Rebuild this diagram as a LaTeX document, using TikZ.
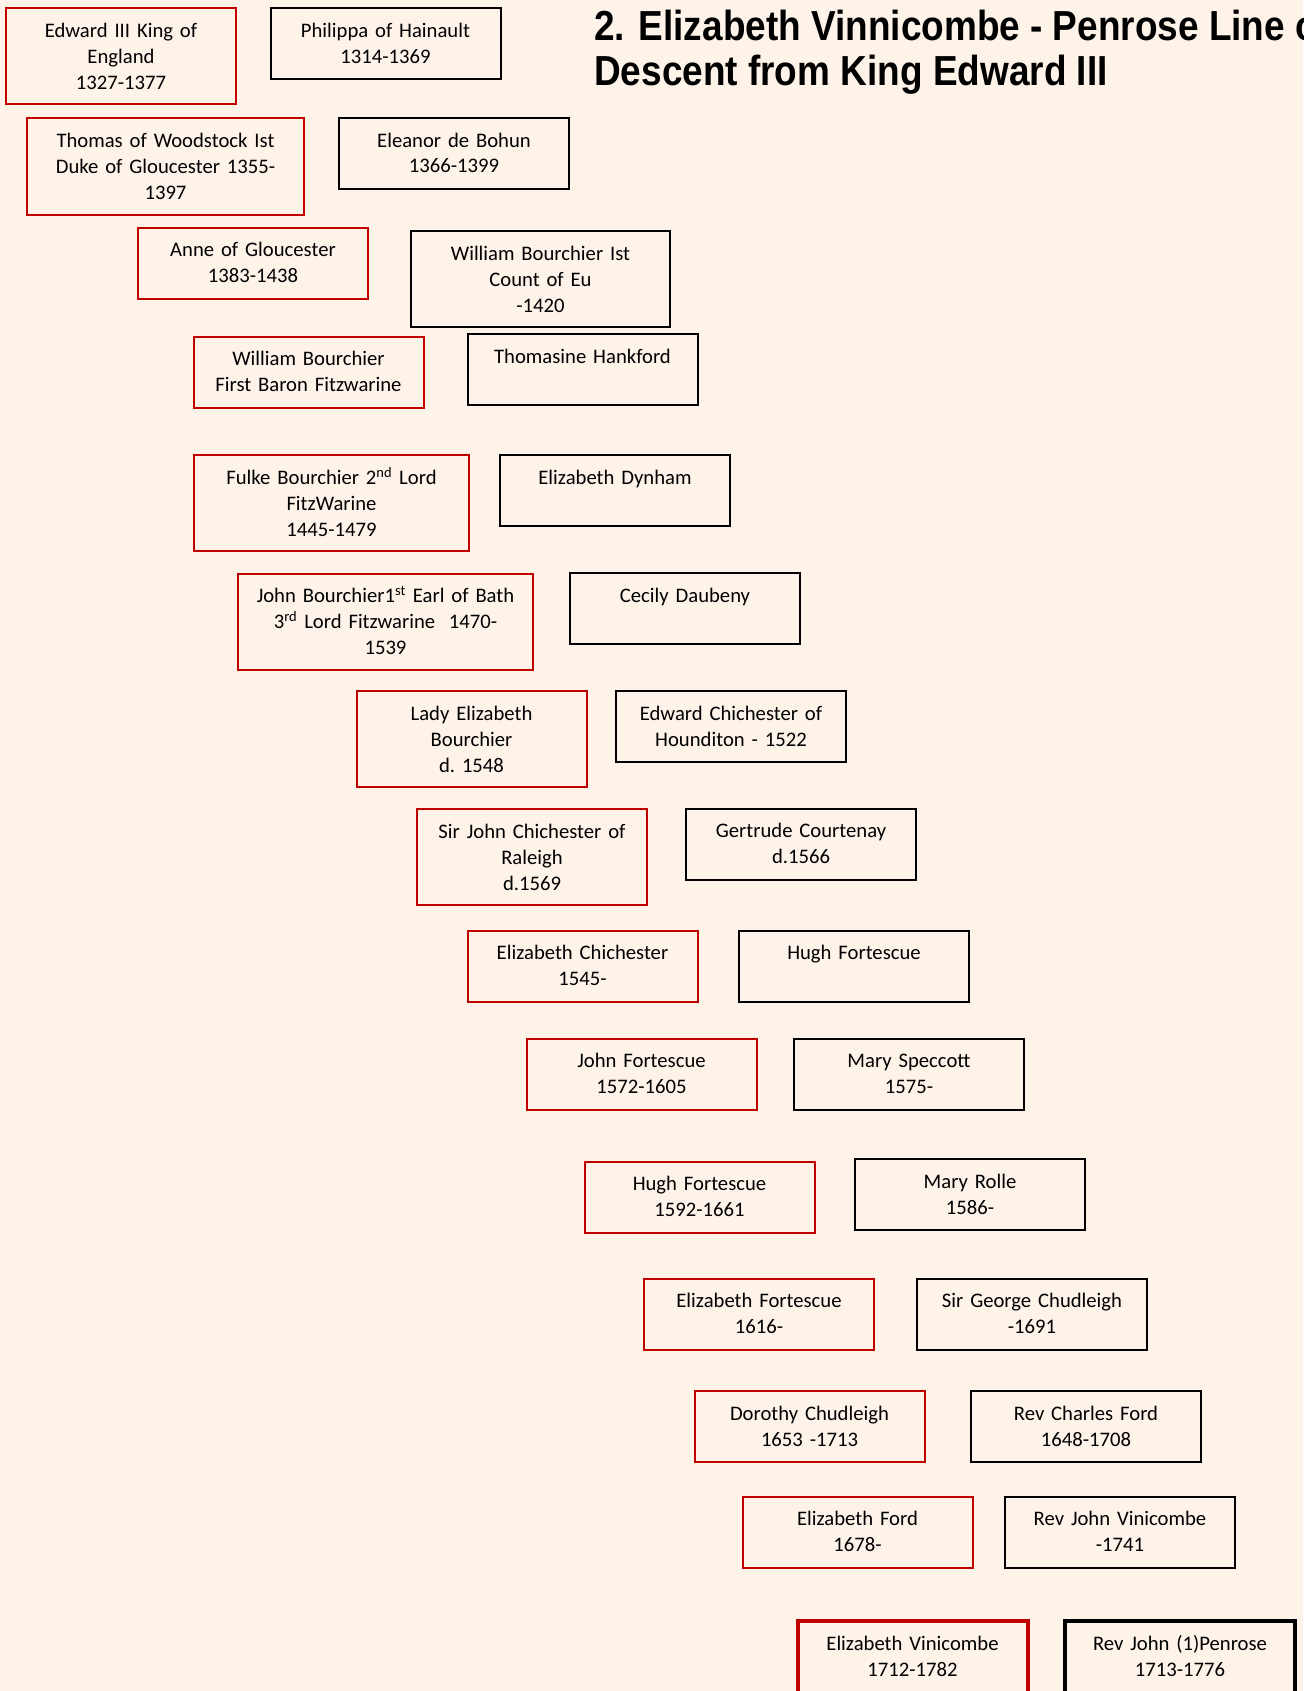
\documentclass[tikz,border=0pt]{standalone}
\usepackage{fontspec}
\setmainfont{Carlito}
\newfontfamily\titlefont[FakeStretch=0.88]{Liberation Sans}
\definecolor{paper}{RGB}{253,243,233}
\definecolor{heirred}{RGB}{192,0,0}

\begin{document}
\begin{tikzpicture}[x=0.75pt, y=-0.75pt]
\tikzset{
  person/.style={draw, line width=1.5pt, inner sep=0pt, align=center,
                 text width=172.5pt, text height=21.75pt, text depth=31.5pt,
                 font=\fontsize{15.5}{19.5}\selectfont},
  heir/.style={person, draw=heirred},
  tall/.style={text depth=50.25pt},
  last/.style={line width=3pt},
  heading/.style={anchor=north west, inner sep=0pt, align=left,
                  font=\titlefont\bfseries\fontsize{31.5}{33.75}\selectfont}
  }

\useasboundingbox (0,0) rectangle (1303,1691);
\clip (0,0) rectangle (1303,1691);
\fill[paper] (0,0) rectangle (1303,1691);

\node[heading] (title) at (594,10) {2. Elizabeth Vinnicombe - Penrose Line of\\Descent from King Edward III};

% left column: the line of descent, right column: the spouses
\node[heir, tall] (edward)    at (121,56.5)    {Edward III King of\\England\\1327-1377};
\node[person]     (philippa)  at (385.5,44)    {Philippa of Hainault\\1314-1369};

\node[heir, tall, text width=207.75pt] (thomas) at (165.5,166.5) {Thomas of Woodstock Ist\\Duke of Gloucester 1355-\\1397};
\node[person]     (eleanor)   at (454,153.5)   {Eleanor de Bohun\\1366-1399};

\node[heir]       (anne)      at (253,263)     {Anne of Gloucester\\1383-1438};
\node[person, tall, text width=194.25pt] (countEu) at (540.5,279) {William Bourchier Ist\\Count of Eu\\-1420};

\node[heir]       (williamB)  at (308.5,372)   {William Bourchier\\First Baron Fitzwarine};
\node[person]     (thomasine) at (582.5,369.5) {Thomasine Hankford};

\node[heir, tall, text width=206.25pt] (fulke) at (331.5,503) {Fulke Bourchier 2\textsuperscript{nd} Lord\\FitzWarine\\1445-1479};
\node[person]     (dynham)    at (615,490.5)   {Elizabeth Dynham};

\node[heir, tall, text width=221.25pt] (johnB) at (385.5,621.5) {John Bourchier1\textsuperscript{st} Earl of Bath\\3\textsuperscript{rd} Lord Fitzwarine~ 1470-\\1539};
\node[person]     (cecily)    at (685,608.5)   {Cecily Daubeny};

\node[heir, tall] (ladyEliz)  at (471.5,739)   {Lady Elizabeth\\Bourchier\\d.\ 1548};
\node[person]     (edwardCh)  at (731,726.5)   {Edward Chichester of\\Hounditon - 1522};

\node[heir, tall] (sirJohn)   at (532,857)     {Sir John Chichester of\\Raleigh\\d.1569};
\node[person]     (gertrude)  at (801,844)     {Gertrude Courtenay\\d.1566};

\node[heir]       (elizCh)    at (582.5,966)   {Elizabeth Chichester\\1545-};
\node[person]     (hughF)     at (854,966)     {Hugh Fortescue};

\node[heir]       (johnF)     at (641.5,1074)  {John Fortescue\\1572-1605};
\node[person]     (speccott)  at (909,1074)    {Mary Speccott\\1575-};

\node[heir]       (hughF2)    at (699.5,1197)  {Hugh Fortescue\\1592-1661};
\node[person]     (rolle)     at (970,1194.5)  {Mary Rolle\\1586-};

\node[heir]       (elizF)     at (759,1314)    {Elizabeth Fortescue\\1616-};
\node[person]     (chudleigh) at (1032,1314)   {Sir George Chudleigh\\-1691};

\node[heir]       (dorothy)   at (809.5,1426.5) {Dorothy Chudleigh\\1653 -1713};
\node[person]     (ford)      at (1086,1426.5)  {Rev Charles Ford\\1648-1708};

\node[heir]       (elizFord)  at (857.5,1532)  {Elizabeth Ford\\1678-};
\node[person]     (vinicombe) at (1120,1532)   {Rev John Vinicombe\\-1741};

\node[heir, tall, last]   (elizV)   at (912.5,1669) {Elizabeth Vinicombe\\1712-1782};
\node[person, tall, last] (penrose) at (1180,1669)  {Rev John (1)Penrose\\1713-1776};

\end{tikzpicture}
\end{document}
